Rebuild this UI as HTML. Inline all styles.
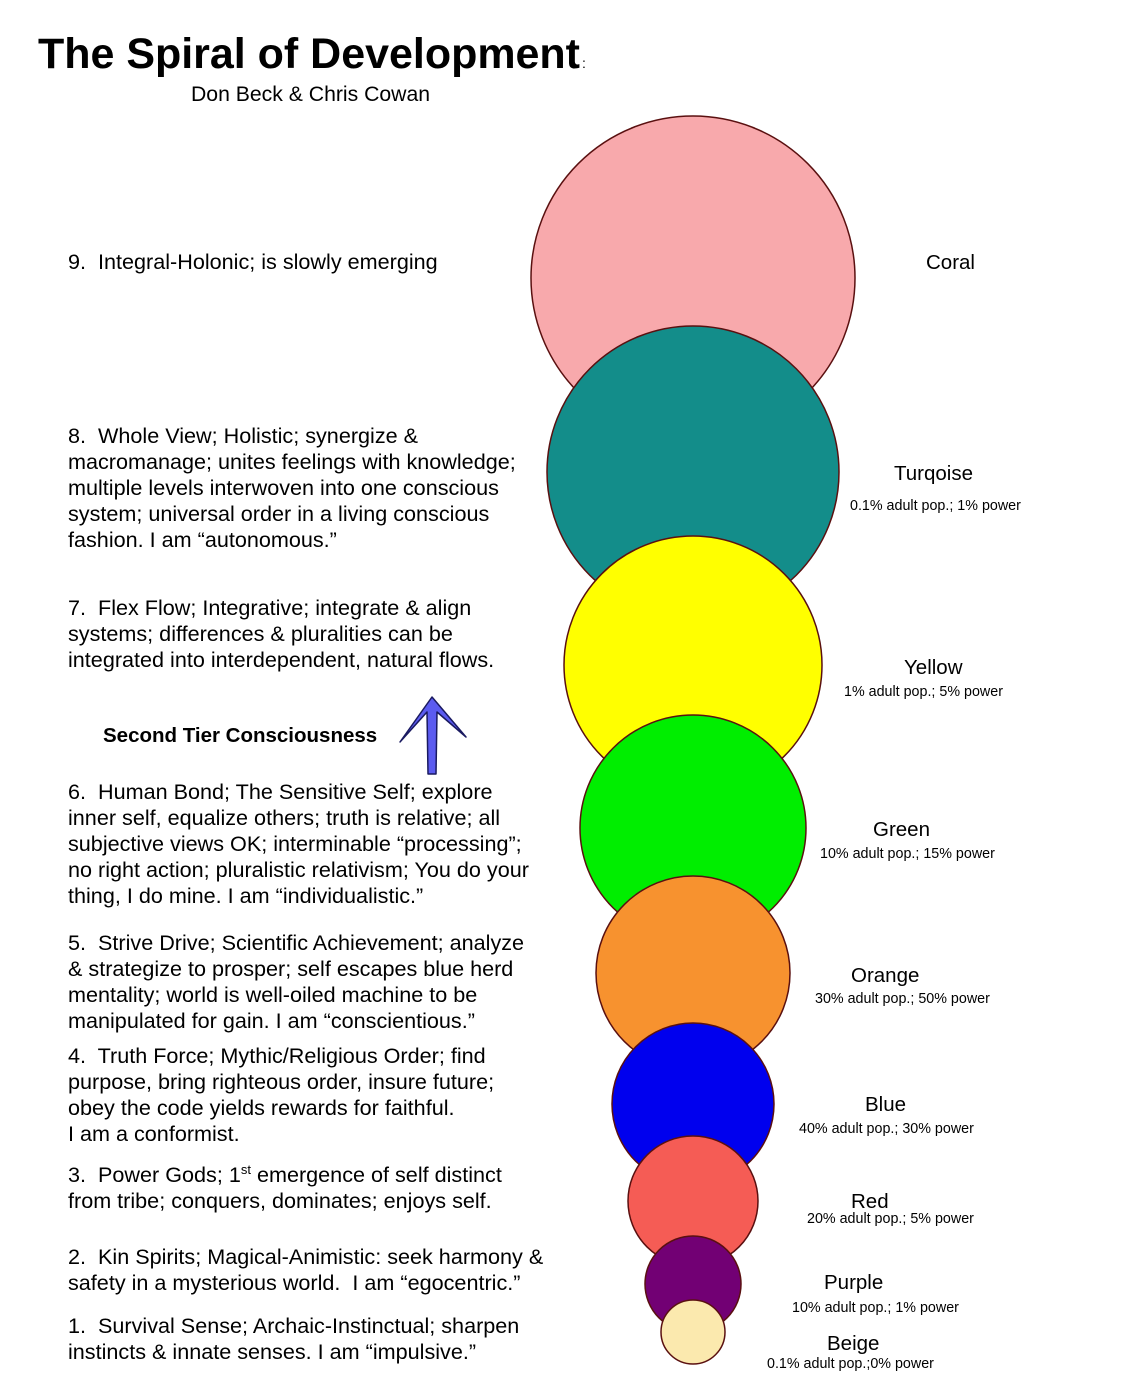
<!DOCTYPE html>
<html><head><meta charset="utf-8"><style>
html,body{margin:0;padding:0;background:#fff}
svg{display:block}
text{font-family:"Liberation Sans",Arial,sans-serif;fill:#000;white-space:pre}
</style></head><body>
<svg width="1126" height="1384" viewBox="0 0 1126 1384" xmlns="http://www.w3.org/2000/svg">
<text x="38" y="68" font-size="42.5" font-weight="bold" textLength="542" lengthAdjust="spacingAndGlyphs">The Spiral of Development</text>
<text x="582" y="68" font-size="14">:</text>
<text x="191" y="101" font-size="21.2">Don Beck &amp; Chris Cowan</text>

<g stroke="#5a1010" stroke-width="1.5">
<circle cx="693" cy="278" r="162" fill="#f8a9ac"/>
<circle cx="693" cy="472" r="146" fill="#138d8a"/>
<circle cx="693" cy="665" r="129" fill="#ffff00"/>
<circle cx="693" cy="828" r="113" fill="#00ee00"/>
<circle cx="693" cy="973" r="97" fill="#f7922f"/>
<circle cx="693" cy="1104" r="81" fill="#0000ee"/>
<circle cx="693" cy="1201" r="65" fill="#f55c55"/>
<circle cx="693" cy="1284" r="48" fill="#720074"/>
<circle cx="693" cy="1332" r="32" fill="#fbe9ae"/>
</g>

<g font-size="20.5">
<text x="926" y="269">Coral</text>
<text x="894" y="480">Turqoise</text>
<text x="904" y="674">Yellow</text>
<text x="873" y="836">Green</text>
<text x="851" y="982">Orange</text>
<text x="865" y="1111">Blue</text>
<text x="851" y="1208">Red</text>
<text x="824" y="1289">Purple</text>
<text x="827" y="1350">Beige</text>
</g>
<g font-size="14.3">
<text x="850" y="510">0.1% adult pop.; 1% power</text>
<text x="844" y="696">1% adult pop.; 5% power</text>
<text x="820" y="858">10% adult pop.; 15% power</text>
<text x="815" y="1003">30% adult pop.; 50% power</text>
<text x="799" y="1133">40% adult pop.; 30% power</text>
<text x="807" y="1223">20% adult pop.; 5% power</text>
<text x="792" y="1312">10% adult pop.; 1% power</text>
<text x="767" y="1368">0.1% adult pop.;0% power</text>
</g>

<g font-size="21.6">
<text x="68" y="269">9.  Integral-Holonic; is slowly emerging</text>
<text x="68" y="443">8.  Whole View; Holistic; synergize &amp;</text>
<text x="68" y="469">macromanage; unites feelings with knowledge;</text>
<text x="68" y="495">multiple levels interwoven into one conscious</text>
<text x="68" y="521">system; universal order in a living conscious</text>
<text x="68" y="547">fashion. I am “autonomous.”</text>
<text x="68" y="615">7.  Flex Flow; Integrative; integrate &amp; align</text>
<text x="68" y="641">systems; differences &amp; pluralities can be</text>
<text x="68" y="667">integrated into interdependent, natural flows.</text>
<text x="103" y="742" font-weight="bold" font-size="20.5">Second Tier Consciousness</text>
<text x="68" y="799">6.  Human Bond; The Sensitive Self; explore</text>
<text x="68" y="825">inner self, equalize others; truth is relative; all</text>
<text x="68" y="851">subjective views OK; interminable “processing”;</text>
<text x="68" y="877">no right action; pluralistic relativism; You do your</text>
<text x="68" y="903">thing, I do mine. I am “individualistic.”</text>
<text x="68" y="950">5.  Strive Drive; Scientific Achievement; analyze</text>
<text x="68" y="976">&amp; strategize to prosper; self escapes blue herd</text>
<text x="68" y="1002">mentality; world is well-oiled machine to be</text>
<text x="68" y="1028">manipulated for gain. I am “conscientious.”</text>
<text x="68" y="1063">4.  Truth Force; Mythic/Religious Order; find</text>
<text x="68" y="1089">purpose, bring righteous order, insure future;</text>
<text x="68" y="1115">obey the code yields rewards for faithful.</text>
<text x="68" y="1141">I am a conformist.</text>
<text x="68" y="1182">3.  Power Gods; 1<tspan font-size="13" dy="-8">st</tspan><tspan dy="8"> emergence of self distinct</tspan></text>
<text x="68" y="1208">from tribe; conquers, dominates; enjoys self.</text>
<text x="68" y="1264">2.  Kin Spirits; Magical-Animistic: seek harmony &amp;</text>
<text x="68" y="1290">safety in a mysterious world.  I am “egocentric.”</text>
<text x="68" y="1333">1.  Survival Sense; Archaic-Instinctual; sharpen</text>
<text x="68" y="1359">instincts &amp; innate senses. I am “impulsive.”</text>
</g>

<polygon points="432,697 466,737 437,712 436,774 428,774 427,712 400,742" fill="#5b5bf0" stroke="#1a1a60" stroke-width="1.5" stroke-linejoin="round"/>
</svg>
</body></html>
